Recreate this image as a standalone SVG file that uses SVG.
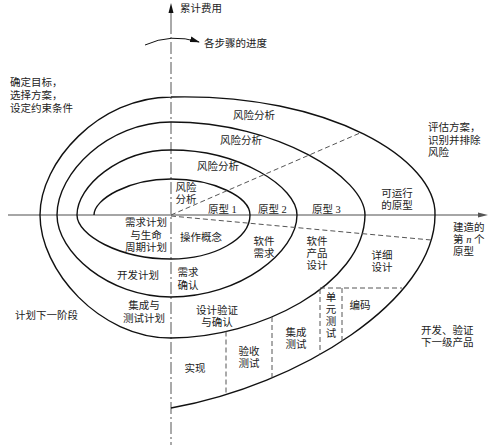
<svg xmlns="http://www.w3.org/2000/svg" width="490" height="445" viewBox="0 0 490 445">
<style>
text{font-family:"Liberation Serif","Noto Sans CJK SC",serif;font-size:10.5px;fill:#222}
.m{text-anchor:middle}
.loop{fill:none;stroke:#111;stroke-width:1.4}
.dash{fill:none;stroke:#555;stroke-width:1;stroke-dasharray:5 3}
.axis-h{stroke:#888;stroke-width:1.6}
.axis-v{stroke:#555;stroke-width:1;stroke-dasharray:12 3 2 3}
</style>
<defs>
<marker id="ah" markerWidth="10" markerHeight="6" refX="9" refY="3" orient="auto" markerUnits="userSpaceOnUse">
<path d="M0,0 L10,3 L0,6 Z" fill="#111"/>
</marker>
</defs>
<g id="axes">
<line class="axis-h" x1="8" y1="215" x2="479" y2="215"/>
<path d="M478,212.5 L488,215 L478,217.5 Z" fill="#555"/>
<line x1="171" y1="12" x2="171" y2="22" stroke="#555" stroke-width="1"/>
<line class="axis-v" x1="171" y1="22" x2="171" y2="445"/>
<path d="M168.5,13 L171,3 L173.5,13 Z" fill="#111"/>
<path d="M145,45 Q171,33 199,42" fill="none" stroke="#111" stroke-width="1" marker-end="url(#ah)"/>
</g>
<g id="connectors">
<path class="loop" d="M94,215 C94,199 129,179 171,179 C214,179 250,197 250,215 C250,239 214,259 171,259 C119,259 77,235 77,215 C77,186 119,150 171,150 C240,150 297,187 297,215 C297,252 240,297 171,297 C108,297 57,252 57,215 C57,173 108,122 171,122 C278,122 365,178 365,215 C364,285 258,338 171,338 C99,338 40,270 40,215 C40,162 99,97 171,97 C330,93 437,160 435,215 C435,300 300,385 171,408"/>
<line class="dash" x1="171" y1="215" x2="360" y2="133"/>
<line class="dash" x1="171" y1="216" x2="431" y2="240"/>
<line class="dash" x1="226" y1="331.5" x2="226" y2="395"/>
<line class="dash" x1="272" y1="317" x2="272" y2="377.5"/>
<line class="dash" x1="320" y1="289" x2="320" y2="355"/>
<line class="dash" x1="342" y1="288" x2="342" y2="341"/>
<line class="dash" x1="320" y1="288" x2="402" y2="288"/>
</g>
<g id="labels-outer">
<text x="180" y="12">累计费用</text>
<text x="204" y="47">各步骤的进度</text>
<text x="10" y="86">确定目标，</text>
<text x="10" y="99">选择方案，</text>
<text x="10" y="112">设定约束条件</text>
<text x="428" y="131">评估方案，</text>
<text x="428" y="143.5">识别并排除</text>
<text x="428" y="156">风险</text>
<text x="453" y="231">建造的</text>
<text x="453" y="243">第 <tspan font-style="italic">n</tspan> 个</text>
<text x="453" y="255">原型</text>
<text x="15" y="319">计划下一阶段</text>
<text x="421" y="334">开发、验证</text>
<text x="421" y="346">下一级产品</text>
</g>
<g id="n-risk">
<text class="m" x="254" y="119">风险分析</text>
<text class="m" x="241" y="144">风险分析</text>
<text class="m" x="218" y="170">风险分析</text>
<text class="m" x="186" y="191">风险</text>
<text class="m" x="186" y="203">分析</text>
</g>
<g id="n-proto">
<text x="208" y="213">原型 1</text>
<text x="258" y="213">原型 2</text>
<text x="312" y="213">原型 3</text>
<text class="m" x="397" y="197">可运行</text>
<text class="m" x="397" y="209">的原型</text>
</g>
<g id="n-plan">
<text class="m" x="146" y="226">需求计划</text>
<text class="m" x="146" y="239">与生命</text>
<text class="m" x="146" y="251">周期计划</text>
<text class="m" x="138" y="279">开发计划</text>
<text class="m" x="144" y="309">集成与</text>
<text class="m" x="144" y="322">测试计划</text>
</g>
<g id="n-dev">
<text class="m" x="201" y="241">操作概念</text>
<text class="m" x="188" y="276">需求</text>
<text class="m" x="188" y="289">确认</text>
<text class="m" x="264" y="245">软件</text>
<text class="m" x="264" y="257">需求</text>
<text class="m" x="317" y="245">软件</text>
<text class="m" x="317" y="257">产品</text>
<text class="m" x="317" y="269">设计</text>
<text class="m" x="382" y="259">详细</text>
<text class="m" x="382" y="271">设计</text>
<text class="m" x="217" y="314">设计验证</text>
<text class="m" x="217" y="326">与确认</text>
</g>
<g id="n-impl">
<text class="m" x="195" y="372">实现</text>
<text class="m" x="249" y="355">验收</text>
<text class="m" x="249" y="367">测试</text>
<text class="m" x="296" y="336">集成</text>
<text class="m" x="296" y="348">测试</text>
<text class="m" x="331" y="301">单</text>
<text class="m" x="331" y="313">元</text>
<text class="m" x="331" y="325">测</text>
<text class="m" x="331" y="337">试</text>
<text class="m" x="360" y="309">编码</text>
</g>
</svg>
